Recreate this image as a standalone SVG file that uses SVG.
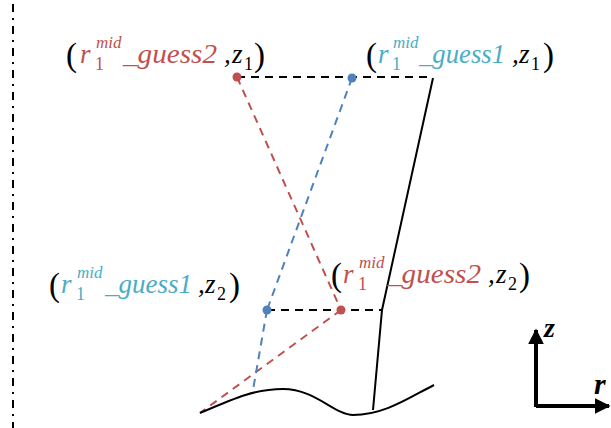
<svg xmlns="http://www.w3.org/2000/svg" width="611" height="428" viewBox="0 0 611 428">
<defs>
<style>
.lbl{font-family:"Liberation Serif","DejaVu Serif",serif;font-style:italic;font-size:27px}
.par{font-family:"Liberation Serif","DejaVu Serif",serif;font-style:normal;font-size:33px;fill:#000}
.sup{font-size:17px}
.sub{font-size:18px;font-style:normal}
.red{fill:#C0504D}
.cyan{fill:#4BACC6}
.blk{fill:#000}
.dash{fill:none;stroke-width:2;stroke-dasharray:8 6}
.solid{fill:none;stroke:#000;stroke-width:2}
</style>
<marker id="ah" viewBox="0 0 10 10" refX="9" refY="5" markerWidth="4" markerHeight="4" orient="auto-start-reverse"><path d="M0,0 L10,5 L0,10 Z" fill="#000"/></marker>
</defs>
<rect width="611" height="428" fill="#fff"/>
<line x1="13" y1="4" x2="13" y2="428" stroke="#000" stroke-width="2" stroke-dasharray="8 6 2 6"/>
<g id="connectors">
<line class="dash" x1="237" y1="77" x2="433" y2="77" stroke="#000"/>
<line class="dash" x1="267" y1="310" x2="382" y2="310" stroke="#000"/>
<line class="dash" x1="237" y1="77" x2="341" y2="310" stroke="#C0504D"/>
<line class="dash" x1="341" y1="310" x2="200" y2="413" stroke="#C0504D"/>
<line class="dash" x1="352" y1="78" x2="267" y2="310" stroke="#4F81BD"/>
<line class="dash" x1="267" y1="310" x2="253" y2="390" stroke="#4F81BD"/>
<polyline class="solid" points="433,78 382,310 373,410"/>
<path class="solid" d="M200,413 C235,398 255,389 283,389 C315,389 335,415 353,415 C385,415 410,397 434,385"/>
<line x1="536" y1="407" x2="536" y2="330" stroke="#000" stroke-width="4" marker-end="url(#ah)"/>
<line x1="536" y1="406" x2="609" y2="406" stroke="#000" stroke-width="4" marker-end="url(#ah)"/>
</g>
<g id="node-top-left">
<circle cx="237" cy="77" r="4.5" fill="#C0504D"/>
<text class="par" x="66" y="66">(</text>
<text class="lbl red" x="80" y="63">r</text>
<text class="lbl red sup" x="96" y="48">mid</text>
<text class="lbl red sub" x="95" y="70">1</text>
<text class="lbl red" x="123" y="63" textLength="94" lengthAdjust="spacingAndGlyphs">_guess2</text>
<text class="lbl blk" x="224" y="63">,</text>
<text class="lbl blk" x="232" y="63">z</text>
<text class="lbl blk sub" x="244" y="70">1</text>
<text class="par" x="254" y="66">)</text>
</g>
<g id="node-top-right">
<circle cx="352" cy="78" r="4.5" fill="#4F81BD"/>
<text class="par" x="366" y="66">(</text>
<text class="lbl cyan" x="378" y="63">r</text>
<text class="lbl cyan sup" x="393" y="48">mid</text>
<text class="lbl cyan sub" x="392" y="70">1</text>
<text class="lbl cyan" x="419" y="63" textLength="86" lengthAdjust="spacingAndGlyphs">_guess1</text>
<text class="lbl blk" x="512" y="63">,</text>
<text class="lbl blk" x="519" y="63">z</text>
<text class="lbl blk sub" x="531" y="70">1</text>
<text class="par" x="543" y="66">)</text>
</g>
<g id="node-bottom-left">
<circle cx="267" cy="310" r="4.5" fill="#4F81BD"/>
<text class="par" x="49" y="296">(</text>
<text class="lbl cyan" x="61" y="293">r</text>
<text class="lbl cyan sup" x="77" y="278">mid</text>
<text class="lbl cyan sub" x="76" y="300">1</text>
<text class="lbl cyan" x="105" y="293" textLength="87" lengthAdjust="spacingAndGlyphs">_guess1</text>
<text class="lbl blk" x="198" y="293">,</text>
<text class="lbl blk" x="205" y="293">z</text>
<text class="lbl blk sub" x="217" y="300">2</text>
<text class="par" x="229" y="296">)</text>
</g>
<g id="node-bottom-right">
<circle cx="341" cy="310" r="4.5" fill="#C0504D"/>
<text class="par" x="331" y="286">(</text>
<text class="lbl red" x="343" y="283">r</text>
<text class="lbl red sup" x="359" y="268">mid</text>
<text class="lbl red sub" x="358" y="290">1</text>
<text class="lbl red" x="387" y="283" textLength="94" lengthAdjust="spacingAndGlyphs">_guess2</text>
<text class="lbl blk" x="488" y="283">,</text>
<text class="lbl blk" x="496" y="283">z</text>
<text class="lbl blk sub" x="508" y="290">2</text>
<text class="par" x="519" y="286">)</text>
</g>
<g id="axes-labels">
<text x="544" y="337" font-family="Liberation Serif,serif" font-style="italic" font-weight="bold" font-size="28">z</text>
<text x="594" y="394" font-family="Liberation Serif,serif" font-style="italic" font-weight="bold" font-size="30">r</text>
</g>
</svg>
